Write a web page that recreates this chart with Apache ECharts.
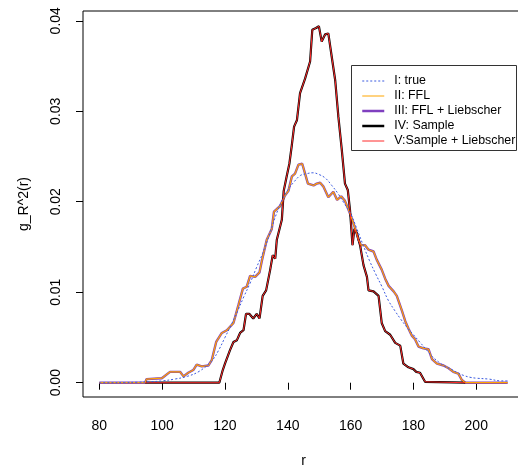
<!DOCTYPE html>
<html><head><meta charset="utf-8">
<script src="https://cdn.jsdelivr.net/npm/echarts@6/dist/echarts.min.js"></script>
<style>html,body{margin:0;padding:0;background:#fff}#c{width:518px;height:471px}</style>
</head><body><div id="c"></div>
<script>
const xTicks = [80, 100, 120, 140, 160, 180, 200];
const yTicks = [0, 0.01, 0.02, 0.03, 0.04];
const names = ['I: true', 'II: FFL', 'III: FFL + Liebscher', 'IV: Sample', 'V:Sample + Liebscher'];

const trueR = [80,84,88,92,96,100,104,108,112,116,118,120,122,124,126,128,130,132,134,136,138,140,142,144,146,148,150,152,154,156,158,160,162,164,166,168,170,172,174,176,178,180,182,184,186,188,190,192,194,196,198,200,204,208,210];
const trueV = [0,0,0.00002,0.00005,0.0001,0.0002,0.0004,0.0007,0.0013,0.0025,0.0036,0.0050,0.0064,0.0079,0.0095,0.0110,0.0127,0.0143,0.0162,0.0183,0.0200,0.0213,0.0222,0.0229,0.0231,0.0232,0.0230,0.0226,0.0218,0.0209,0.0198,0.0187,0.0170,0.0152,0.0135,0.0120,0.0106,0.0091,0.0080,0.0070,0.0061,0.0053,0.0045,0.0037,0.0029,0.0023,0.0018,0.0015,0.0011,0.0008,0.0006,0.0005,0.0004,0.0002,0.0002];

const fflR = [80,94.6,95,99.9,100.4,102.5,105.7,106.8,108.3,109.9,111,112.6,114.7,115.8,117.2,119,120.6,122.7,124.3,125.7,126.9,128,129.6,131,131.7,133.3,134.9,135.6,137.5,139.1,140.2,141.3,142.3,143.4,144.6,145.5,146.4,148.2,149.2,150.3,151.3,152.9,154.5,155.7,157,158.2,159.8,160.4,161.4,162.5,163.3,164.6,165.7,167.3,168.3,169.9,171,172.1,173.7,174.7,176.3,177.4,178.4,179.5,180.5,181.6,183.2,184.8,185.9,187.5,189.6,191.2,192.7,194.3,195.4,196.5,210];
const fflV = [0,0,0.0004,0.0005,0.0007,0.0012,0.0012,0.0007,0.0011,0.0014,0.0020,0.0018,0.0019,0.0025,0.0045,0.0055,0.0058,0.0066,0.0086,0.0104,0.0106,0.0118,0.0117,0.0122,0.0134,0.0158,0.0170,0.0189,0.0195,0.0207,0.0212,0.0228,0.0231,0.0241,0.0242,0.0231,0.0220,0.0218,0.0220,0.0221,0.0217,0.0205,0.0211,0.0202,0.0206,0.0201,0.0187,0.0185,0.0171,0.0158,0.0152,0.0152,0.0147,0.0145,0.0136,0.0125,0.0115,0.0107,0.0101,0.0096,0.0080,0.0068,0.0060,0.0052,0.0048,0.0040,0.0038,0.0037,0.0026,0.0021,0.0019,0.0016,0.0012,0.0010,0.0003,0,0];

const fflLR = fflR;
const fflLV = [0,0,0.0004,0.0005,0.0007,0.0012,0.0012,0.0007,0.0011,0.0014,0.0020,0.0018,0.0019,0.0025,0.0045,0.0055,0.0058,0.0066,0.0086,0.0104,0.0106,0.0118,0.0117,0.0122,0.0134,0.0158,0.0170,0.0189,0.0195,0.0207,0.0212,0.0228,0.0231,0.0241,0.0242,0.0231,0.0220,0.0218,0.0220,0.0221,0.0217,0.0205,0.0211,0.0202,0.0206,0.0201,0.0187,0.0185,0.0171,0.0158,0.0152,0.0152,0.0147,0.0145,0.0136,0.0125,0.0115,0.0107,0.0101,0.0096,0.0080,0.0068,0.0060,0.0052,0.0048,0.0040,0.0038,0.0037,0.0026,0.0021,0.0019,0.0016,0.0012,0.0010,0.0003,0,0];

const sampR = [94.6,118.2,119.3,120,121.6,122.7,123.8,124.8,125.9,126.7,127.8,129,130.1,131,132,133.1,134.4,135.2,136,136.5,137.3,138.1,138.7,139.7,140.5,141.3,142,142.9,143.9,145.5,147.1,147.8,149,149.9,150.8,151.9,152.9,154,155.1,156.1,157.2,158.2,159.1,159.8,160.6,161.2,162,163,164.1,165.2,165.7,167.3,168.9,169.9,171,172.6,174.2,175.8,176.8,178.4,180,180.9,182.1,183.7,184,196.5];
const sampV = [0,0,0.0014,0.0021,0.0036,0.0045,0.0047,0.0055,0.0058,0.0076,0.0076,0.0071,0.0076,0.0071,0.0096,0.0102,0.0125,0.0141,0.0137,0.0158,0.0169,0.0180,0.0212,0.0229,0.0242,0.0263,0.0283,0.0290,0.0320,0.0336,0.0355,0.0390,0.0392,0.0394,0.0377,0.0385,0.0386,0.0360,0.0334,0.0294,0.0257,0.0220,0.0213,0.0191,0.0152,0.0170,0.0165,0.0152,0.0130,0.0117,0.0102,0.0101,0.0096,0.0066,0.0057,0.0053,0.0044,0.0041,0.0021,0.0017,0.0015,0.0012,0.0011,0.0001,0,0];

const sampLR = sampR;
const sampLV = [0,0,0.0014,0.0021,0.0036,0.0045,0.0047,0.0055,0.0058,0.0076,0.0076,0.0071,0.0076,0.0071,0.0096,0.0102,0.0125,0.0141,0.0137,0.0158,0.0169,0.0180,0.0212,0.0229,0.0242,0.0263,0.0283,0.0290,0.0320,0.0336,0.0355,0.0390,0.0392,0.0394,0.0377,0.0385,0.0386,0.0360,0.0334,0.0294,0.0257,0.0220,0.0213,0.0191,0.0152,0.0170,0.0165,0.0152,0.0130,0.0117,0.0102,0.0101,0.0096,0.0066,0.0057,0.0053,0.0044,0.0041,0.0021,0.0017,0.0015,0.0012,0.0011,0.0001,0,0];

const zip = (a, b) => a.map((v, i) => [v, b[i]]);
const FONT = '"Liberation Sans", Arial, sans-serif';
const COL = ['#3a5ae0', '#ffa500', '#7f3fbf', '#000000', '#ff2a2a'];
const LW = [1, 1.2, 2.4, 2.2, 1];
const LEGW = [1, 1, 2.5, 2.5, 1];

const chart = echarts.init(document.getElementById('c'), null, {renderer: 'canvas'});
chart.setOption({
  animation: false,
  backgroundColor: '#fff',
  grid: {left: 83, top: 11, width: 441, height: 386, outerBoundsMode: 'none', containLabel: false,
    show: true, borderColor: '#000', borderWidth: 1, backgroundColor: 'transparent'},
  xAxis: {
    type: 'value', min: 74.8, max: 215.2,
    name: 'r', nameLocation: 'middle', nameGap: 57,
    nameTextStyle: {fontFamily: FONT, fontSize: 14, color: '#000'},
    axisLine: {show: false},
    splitLine: {show: false},
    axisTick: {show: true, customValues: xTicks, length: 7, lineStyle: {color: '#000', width: 1}},
    axisLabel: {customValues: xTicks, margin: 22, fontFamily: FONT, fontSize: 14, color: '#000'}
  },
  yAxis: {
    type: 'value', min: -0.00158, max: 0.04108,
    name: 'g_R^2(r)', nameLocation: 'middle', nameGap: 52, nameRotate: 90,
    nameTextStyle: {fontFamily: FONT, fontSize: 14, color: '#000'},
    axisLine: {show: false},
    splitLine: {show: false},
    axisTick: {show: true, customValues: yTicks, length: 7, lineStyle: {color: '#000', width: 1}},
    axisLabel: {customValues: yTicks, rotate: 90, margin: 20, fontFamily: FONT, fontSize: 14, color: '#000',
      formatter: v => v.toFixed(2)}
  },
  legend: {
    data: names.map((n, i) => ({name: n, lineStyle: {width: LEGW[i], color: COL[i], type: i === 0 ? [2, 2] : 'solid'}})),
    orient: 'vertical', left: 361, top: 75, z: 100,
    itemWidth: 22, itemHeight: 12, itemGap: 3, padding: 0,
    textStyle: {fontFamily: FONT, fontSize: 12.4, color: '#000', lineHeight: 12, padding: [0, 0, 0, 5]},
    itemStyle: {opacity: 0}
  },
  graphic: [{
    type: 'rect', z: 90, silent: true,
    shape: {x: 351.5, y: 65.5, width: 165, height: 85},
    style: {fill: '#fff', stroke: '#333', lineWidth: 1}
  }],
  series: [
    {name: names[0], type: 'line', data: zip(trueR, trueV), symbol: 'none', smooth: 0.4, z: 6,
     lineStyle: {color: COL[0], width: LW[0], type: [2, 2]}, itemStyle: {color: COL[0]}},
    {name: names[1], type: 'line', data: zip(fflR, fflV), symbol: 'none', z: 4,
     lineStyle: {color: COL[1], width: LW[1]}, itemStyle: {color: COL[1]}},
    {name: names[2], type: 'line', data: zip(fflLR, fflLV), symbol: 'none', z: 2,
     lineStyle: {color: COL[2], width: LW[2]}, itemStyle: {color: COL[2]}},
    {name: names[3], type: 'line', data: zip(sampR, sampV), symbol: 'none', z: 3,
     lineStyle: {color: COL[3], width: LW[3]}, itemStyle: {color: COL[3]}},
    {name: names[4], type: 'line', data: zip(sampLR, sampLV), symbol: 'none', z: 5,
     lineStyle: {color: COL[4], width: LW[4]}, itemStyle: {color: COL[4]}}
  ]
});
</script></body></html>
